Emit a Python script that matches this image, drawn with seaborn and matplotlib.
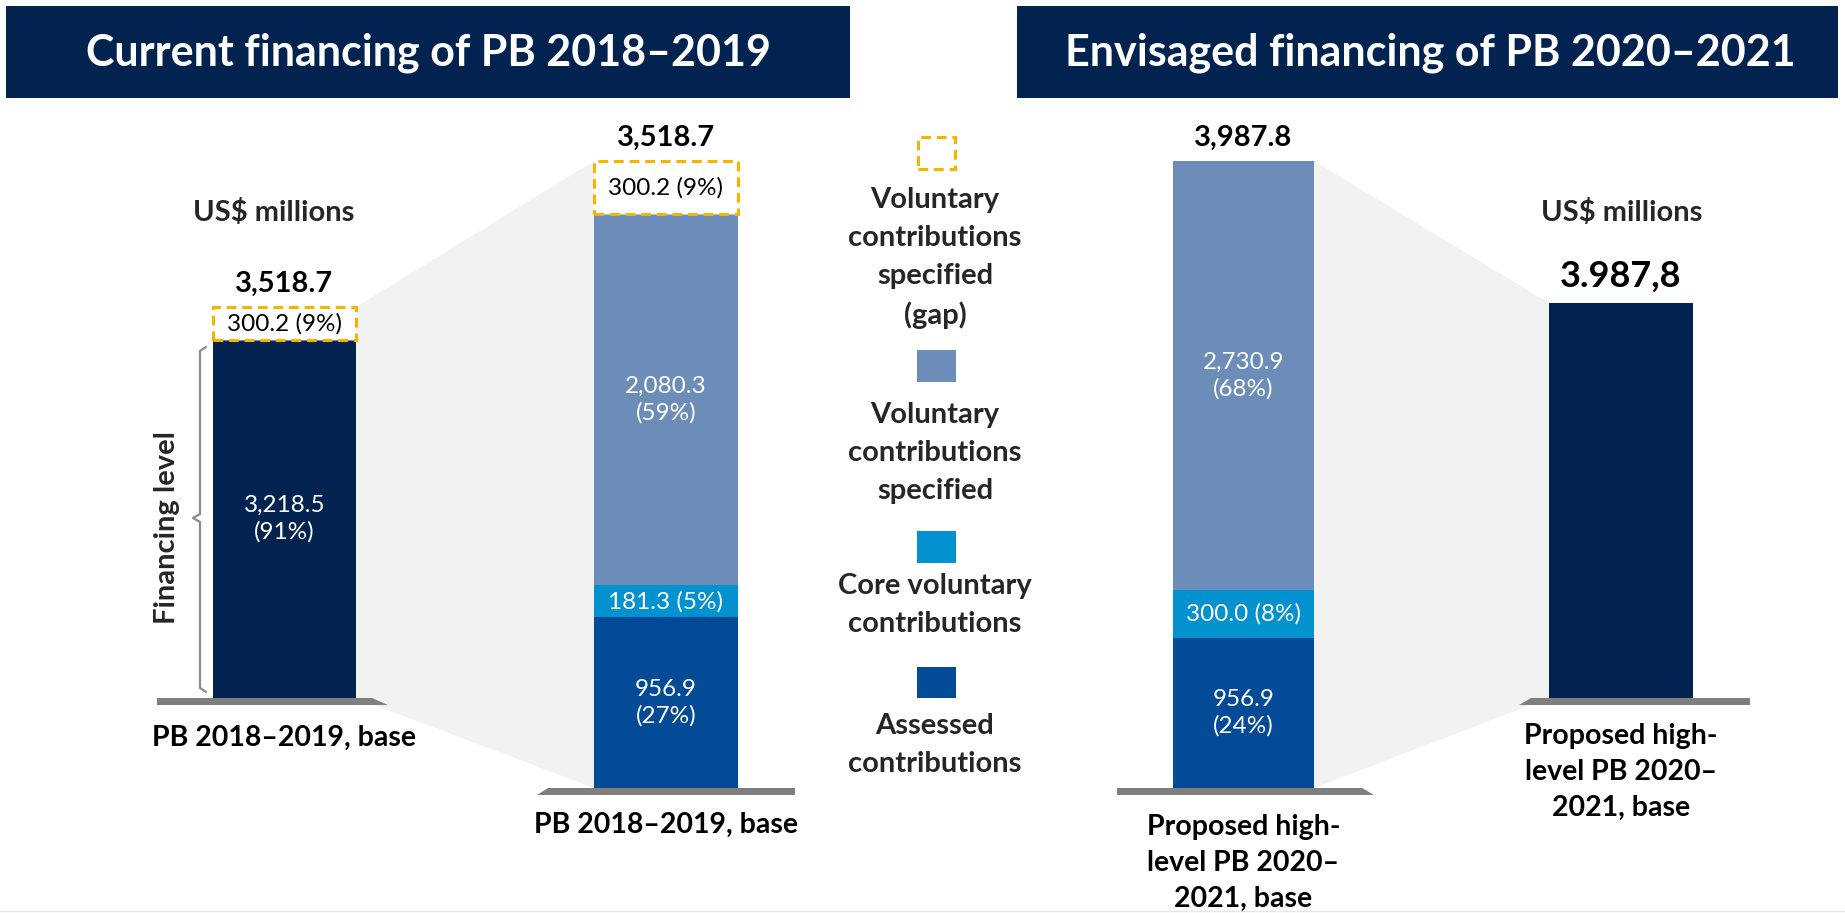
import matplotlib
matplotlib.use("Agg")
import matplotlib.pyplot as plt
import seaborn as sns
from matplotlib.patches import Rectangle, Polygon
from matplotlib.lines import Line2D
from matplotlib import font_manager

# ---------------- data ----------------
panel_titles = ["Current financing of PB 2018–2019", "Envisaged financing of PB 2020–2021"]
unit_label = "US$ millions"
bracket_label = "Financing level"
bar_names = ["PB 2018–2019, base", "PB 2018–2019, base",
             "Proposed high-\nlevel PB 2020–\n2021, base", "Proposed high-\nlevel PB 2020–\n2021, base"]
legend_labels = ["Voluntary\ncontributions\nspecified\n(gap)",
                 "Voluntary\ncontributions\nspecified",
                 "Core voluntary\ncontributions",
                 "Assessed\ncontributions"]

current_financing_level = [3218.5]
current_gap = [300.2]
current_assessed = [956.9]
current_core = [181.3]
current_voluntary = [2080.3]
current_total = [3518.7]

proposed_assessed = [956.9]
proposed_core = [300.0]
proposed_voluntary = [2730.9]
proposed_total = [3987.8]
proposed_total_label = "3.987,8"

# ---------------- style ----------------
NAVY = "#022350"
STEEL = "#6D8DB9"
CORE = "#0391CF"
ASSESSED = "#034A97"
GOLD = "#F4B400"
SHADOW = "#F2F2F2"
BASEGRAY = "#7F7F7F"

sns.set_theme(style="white")
names = {f.name for f in font_manager.fontManager.ttflist}
FONT = "Lato" if "Lato" in names else "DejaVu Sans"
plt.rcParams["font.family"] = [FONT, "DejaVu Sans"]

W, H = 1845, 913
fig = plt.figure(figsize=(W / 100, H / 100), dpi=100, facecolor="white")


def fxy(x, y):
    return x / W, 1 - y / H


def frect(x0, y0, x1, y1, **kw):
    r = Rectangle(fxy(x0, y1), (x1 - x0) / W, (y1 - y0) / H, transform=fig.transFigure, **kw)
    fig.patches.append(r)
    return r


def ftext(x, y, s, **kw):
    return fig.text(*fxy(x, y), s, **kw)


def bar_ax(left, right, bottom, top):
    ax = fig.add_axes([left / W, 1 - bottom / H, (right - left) / W, (bottom - top) / H])
    ax.set_facecolor("none")
    return ax


def stack(ax, values, colors, total, gap=None):
    base = 0.0
    for v, c in zip(values, colors):
        sns.barplot(x=["b"], y=[v], bottom=base, color=c, width=1, saturation=1,
                    errorbar=None, linewidth=0, ax=ax)
        base += v
    if gap is not None:
        sns.barplot(x=["b"], y=[gap], bottom=base, color="white", edgecolor=GOLD,
                    linewidth=2.2, linestyle=(0, (3.2, 1.9)), width=1, saturation=1,
                    errorbar=None, ax=ax)
    for p in ax.patches:
        p.set_clip_on(False)
    ax.set_xlim(-0.5, 0.5)
    ax.set_ylim(0, total)
    ax.axis("off")


def seg_label(ax, bottom, value, total, two_lines, color="white"):
    pct = f"({round(100 * value / total):.0f}%)"
    txt = f"{value:,.1f}" + ("\n" if two_lines else " ") + pct
    ax.text(0, bottom + value / 2, txt, ha="center", va="center", color=color,
            fontsize=17.5, linespacing=1.3)


def top_label(ax, total, text, size=21, off=17):
    ax.annotate(text, xy=(0, total), xytext=(0, off), textcoords="offset points",
                ha="center", va="center", fontsize=size, fontweight="bold", color="black",
                annotation_clip=False)


def bottom_label(ax, text, off=-18):
    ax.annotate(text, xy=(0, 0), xytext=(0, off), textcoords="offset points",
                ha="center", va="top", fontsize=20.5, fontweight="bold", color="black",
                linespacing=1.47, annotation_clip=False)


def to_fig(ax, pt):
    return fig.transFigure.inverted().transform(ax.transData.transform(pt))


# ---------------- headers ----------------
frect(6, 6, 850, 98, facecolor=NAVY, edgecolor="none")
frect(1017, 6, 1838, 98, facecolor=NAVY, edgecolor="none")
ftext(428, 53, panel_titles[0], ha="center", va="center", color="white", fontsize=31, fontweight="bold")
ftext(1430, 53, panel_titles[1], ha="center", va="center", color="white", fontsize=31, fontweight="bold")

# ---------------- bars ----------------
ax1 = bar_ax(213, 356, 698, 307)
stack(ax1, current_financing_level, [NAVY], current_total[0], gap=current_gap[0])
seg_label(ax1, 0, current_financing_level[0], current_total[0], True)
seg_label(ax1, current_financing_level[0], current_gap[0], current_total[0], False, color="black")
top_label(ax1, current_total[0], f"{current_total[0]:,.1f}")
bottom_label(ax1, bar_names[0], off=-19.5)

ax2 = bar_ax(594, 738, 788, 161)
stack(ax2, [current_assessed[0], current_core[0], current_voluntary[0]],
      [ASSESSED, CORE, STEEL], current_total[0], gap=current_gap[0])
b = 0.0
for v, two in zip([current_assessed[0], current_core[0], current_voluntary[0]], [True, False, True]):
    seg_label(ax2, b, v, current_total[0], two)
    b += v
seg_label(ax2, b, current_gap[0], current_total[0], False, color="black")
top_label(ax2, current_total[0], f"{current_total[0]:,.1f}")
bottom_label(ax2, bar_names[1], off=-17)

ax3 = bar_ax(1173, 1314, 788, 161)
stack(ax3, [proposed_assessed[0], proposed_core[0], proposed_voluntary[0]],
      [ASSESSED, CORE, STEEL], proposed_total[0])
b = 0.0
for v, two in zip([proposed_assessed[0], proposed_core[0], proposed_voluntary[0]], [True, False, True]):
    seg_label(ax3, b, v, proposed_total[0], two)
    b += v
top_label(ax3, proposed_total[0], f"{proposed_total[0]:,.1f}")
bottom_label(ax3, bar_names[2], off=-18.5)

ax4 = bar_ax(1549, 1693, 698, 303)
stack(ax4, proposed_total, [NAVY], proposed_total[0])
top_label(ax4, proposed_total[0], proposed_total_label, size=26, off=19)
bottom_label(ax4, bar_names[3], off=-18)

# ---------------- shadows (from bar geometry) ----------------
for a, bta, ta, tb in [(ax1, ax2, current_total[0], current_total[0]),
                       (ax3, ax4, proposed_total[0], proposed_total[0])]:
    pts = [to_fig(a, (0.5, ta)), to_fig(bta, (-0.5, tb)), to_fig(bta, (-0.5, 0)), to_fig(a, (0.5, 0))]
    poly = Polygon(pts, closed=True, transform=fig.transFigure, facecolor=SHADOW,
                   edgecolor="none", zorder=-5)
    fig.patches.append(poly)

# ---------------- baselines ----------------
def baseline(pts):
    poly = Polygon([fxy(x, y) for x, y in pts], closed=True, transform=fig.transFigure,
                   facecolor=BASEGRAY, edgecolor="none", zorder=-1)
    fig.patches.append(poly)

baseline([(157, 698), (372, 698), (388, 705), (157, 705)])
baseline([(548, 788), (795, 788), (795, 795), (537, 795)])
baseline([(1117, 788), (1362, 788), (1374, 795), (1117, 795)])
baseline([(1531, 698), (1750, 698), (1750, 705), (1519, 705)])

# ---------------- bracket ----------------
bx = [206, 200, 200, 193, 200, 200, 206]
by = [347, 351, 514, 518, 522, 688, 692]
fig.lines.append(Line2D([x / W for x in bx], [1 - y / H for y in by], transform=fig.transFigure,
                        color="#8C8C8C", linewidth=1.6))
ftext(167, 527, bracket_label, rotation=90, ha="center", va="center", fontsize=21, fontweight="bold")

# ---------------- unit labels ----------------
ftext(274, 213, unit_label, ha="center", va="center", fontsize=21, fontweight="bold")
ftext(1622, 213, unit_label, ha="center", va="center", fontsize=21, fontweight="bold")

# ---------------- legend ----------------
sq = [(136, 170), (350, 382), (531, 563), (667, 698)]
sq_colors = [None, STEEL, CORE, ASSESSED]
text_centers = [258, 453, 605, 745]
for (y0, y1), c, lab, tc in zip(sq, sq_colors, legend_labels, text_centers):
    if c is None:
        frect(918, y0 + 1, 955, y1 - 1, facecolor="white", edgecolor=GOLD, linewidth=2.2,
              linestyle=(0, (3.2, 1.9)))
    else:
        frect(917, y0, 956, y1, facecolor=c, edgecolor="none")
    ftext(935, tc, lab, ha="center", va="center", fontsize=21, fontweight="bold", linespacing=1.56)

# faint bottom rule
fig.lines.append(Line2D([0, 1], [1 - 911 / H, 1 - 911 / H], transform=fig.transFigure,
                        color="#E6E6E6", linewidth=1))

fig.savefig("out.png", dpi=100, facecolor="white")
